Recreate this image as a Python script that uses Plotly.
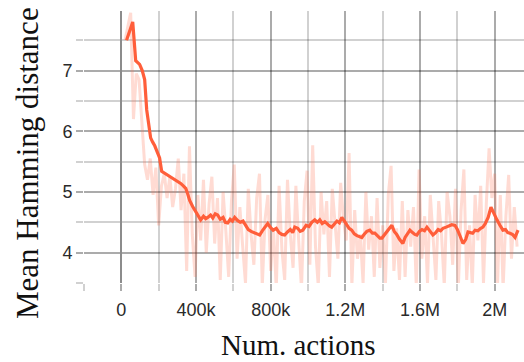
import numpy as np
import plotly.graph_objects as go

# Raw per-evaluation values (faint trace), sampled every 15k actions
raw_steps = np.arange(20_000, 2_120_001, 15_000)
raw_dist = [
    7.50, 7.70, 7.95, 6.20, 6.95, 6.85, 6.10, 5.45, 5.20, 5.55,
    4.95, 5.40, 4.45, 5.10, 5.30, 4.90, 5.25, 4.75, 5.05, 5.55,
    4.70, 5.30, 3.70, 5.75, 4.30, 3.60, 4.95, 4.20, 5.20, 4.00,
    4.80, 5.25, 4.15, 4.90, 3.55, 5.00, 4.35, 3.60, 4.85, 5.45,
    3.90, 4.75, 4.10, 3.50, 5.05, 4.30, 3.80, 4.90, 5.30, 3.45,
    4.55, 4.95, 3.70, 4.40, 3.40, 5.10, 4.05, 3.55, 5.20, 4.30,
    3.75, 5.10, 4.20, 3.40, 4.85, 5.35, 3.80, 5.77, 4.10, 3.45,
    5.00, 4.30, 4.85, 3.60, 5.05, 4.40, 3.90, 5.15, 4.55, 4.20,
    5.64, 3.45, 4.70, 3.90, 4.30, 3.50, 5.00, 4.05, 4.60, 3.60,
    4.90, 3.75, 4.45, 3.50, 4.95, 5.43, 3.70, 4.40, 3.55, 4.85,
    3.60, 4.70, 4.10, 4.75, 3.45, 5.37, 3.90, 4.60, 3.50, 4.95,
    4.20, 3.55, 4.85, 4.30, 3.45, 5.00, 4.60, 3.80, 5.05, 3.40,
    4.70, 5.37, 3.55, 4.45, 3.45, 4.95, 4.20, 5.10, 3.50, 4.80,
    5.72, 4.90, 5.30, 3.45, 4.95, 3.40, 4.60, 5.28, 3.90, 4.75,
    4.10,
]

# Smoothed curve (bold trace)
smooth_steps_k = [
    28, 61, 77, 98, 112, 125, 136, 146, 157, 168, 179, 192, 205, 216, 232,
    248, 265, 283, 300, 318, 332, 345, 356, 366, 382, 398, 412, 425, 440,
    452, 463, 478, 490, 503, 516, 530, 545, 557, 570, 583, 595, 607, 622,
    637, 652, 666, 680, 695, 710, 725, 741, 755, 770, 784, 800, 813, 830,
    845, 860, 875, 890, 905, 918, 929, 945, 958, 972, 990, 1005, 1020,
    1036, 1050, 1063, 1076, 1090, 1105, 1115, 1127, 1140, 1155, 1168, 1181,
    1195, 1207, 1220, 1234, 1248, 1262, 1275, 1288, 1300, 1315, 1331, 1345,
    1358, 1372, 1385, 1396, 1410, 1425, 1437, 1449, 1462, 1475, 1490, 1508,
    1520, 1533, 1546, 1560, 1572, 1583, 1597, 1610, 1624, 1637, 1652, 1669,
    1684, 1697, 1710, 1723, 1740, 1755, 1770, 1787, 1800, 1815, 1830, 1845,
    1857, 1870, 1882, 1895, 1910, 1925, 1937, 1950, 1965, 1980, 1995, 2012,
    2028, 2044, 2058, 2070, 2082, 2096, 2109, 2125,
]
smooth_dist = [
    7.50, 7.80, 7.16, 7.10, 7.00, 6.85, 6.35, 6.10, 5.89, 5.82, 5.76, 5.66,
    5.56, 5.34, 5.31, 5.28, 5.24, 5.20, 5.17, 5.14, 5.10, 5.06, 4.96, 4.86,
    4.76, 4.67, 4.60, 4.54, 4.60, 4.56, 4.58, 4.62, 4.57, 4.64, 4.62, 4.55,
    4.58, 4.50, 4.49, 4.55, 4.52, 4.58, 4.53, 4.50, 4.52, 4.44, 4.38, 4.35,
    4.33, 4.31, 4.29, 4.36, 4.42, 4.48, 4.41, 4.37, 4.40, 4.33, 4.30, 4.29,
    4.34, 4.38, 4.33, 4.42, 4.40, 4.35, 4.37, 4.45, 4.43, 4.50, 4.54, 4.50,
    4.54, 4.48, 4.51, 4.46, 4.44, 4.42, 4.47, 4.52, 4.49, 4.58, 4.52, 4.47,
    4.40, 4.37, 4.31, 4.28, 4.26, 4.25, 4.30, 4.35, 4.37, 4.32, 4.32, 4.27,
    4.24, 4.24, 4.30, 4.36, 4.42, 4.45, 4.35, 4.30, 4.22, 4.15, 4.25, 4.32,
    4.37, 4.33, 4.30, 4.29, 4.35, 4.38, 4.36, 4.42, 4.36, 4.29, 4.33, 4.38,
    4.36, 4.40, 4.42, 4.44, 4.46, 4.45, 4.38, 4.27, 4.15, 4.22, 4.34, 4.33,
    4.32, 4.37, 4.36, 4.40, 4.42, 4.48, 4.58, 4.75, 4.64, 4.54, 4.45, 4.37,
    4.38, 4.33, 4.32, 4.30, 4.25, 4.37,
]
smooth_steps = [k * 1000 for k in smooth_steps_k]

x_tick_vals = [0, 400_000, 800_000, 1_200_000, 1_600_000, 2_000_000]
x_tick_text = ["0", "400k", "800k", "1.2M", "1.6M", "2M"]
y_tick_vals = [4, 5, 6, 7]
y_tick_text = ["4", "5", "6", "7"]

GRID = "rgba(0,0,0,0.18)"
tick_font = dict(family="Liberation Sans, Arial, sans-serif", size=18, color="#2a2a2a")
title_font = dict(family="Liberation Serif, Times New Roman, serif", size=30, color="#111111")

fig = go.Figure()
fig.add_trace(go.Scatter(
    x=raw_steps, y=raw_dist, mode="lines",
    line=dict(color="rgba(255,110,80,0.25)", width=3),
    hoverinfo="skip", showlegend=False,
))
fig.add_trace(go.Scatter(
    x=smooth_steps, y=smooth_dist, mode="lines",
    line=dict(color="#ff5e3a", width=3.2),
    showlegend=False,
))

fig.update_layout(
    width=524, height=362,
    margin=dict(l=84, r=0, t=11, b=79),
    paper_bgcolor="white", plot_bgcolor="white",
    xaxis=dict(
        range=[-200_000, 2_157_000],
        tickvals=x_tick_vals, ticktext=x_tick_text,
        tickfont=tick_font, ticklabelstandoff=3,
        showgrid=True, gridcolor=GRID, gridwidth=1.5,
        ticks="outside", ticklen=7, tickcolor=GRID, tickwidth=1.5,
        minor=dict(dtick=200_000, tick0=0, showgrid=True, gridcolor=GRID,
                   gridwidth=1.5, ticks="outside", ticklen=7,
                   tickcolor=GRID, tickwidth=1.5),
        zeroline=True, zerolinecolor="#8c8c8c", zerolinewidth=2,
        showline=False,
    ),
    yaxis=dict(
        range=[3.5, 7.98],
        tickvals=y_tick_vals, ticktext=y_tick_text,
        tickfont=tick_font,
        showgrid=True, gridcolor=GRID, gridwidth=1.5,
        ticks="outside", ticklen=7, tickcolor=GRID, tickwidth=1.5,
        minor=dict(dtick=0.5, tick0=0, showgrid=True, gridcolor=GRID,
                   gridwidth=1.5, ticks="outside", ticklen=7,
                   tickcolor=GRID, tickwidth=1.5),
        zeroline=False, showline=False,
    ),
    annotations=[
        dict(text="Num. actions", xref="paper", yref="paper",
             x=(298 - 84) / 440, y=-(345 - 283) / 272,
             xanchor="center", yanchor="middle", showarrow=False,
             font=dict(title_font, size=29)),
        dict(text="Mean Hamming distance", xref="paper", yref="paper",
             x=-(84 - 27) / 440, y=(283 - 163) / 272,
             xanchor="center", yanchor="middle", showarrow=False,
             textangle=-90, font=dict(title_font, size=31)),
    ],
)

fig.write_html("out.html")
